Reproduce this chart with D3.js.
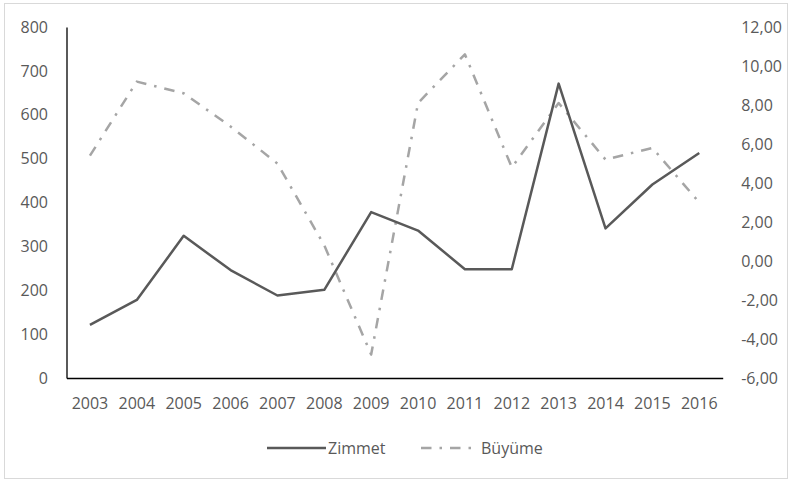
<!DOCTYPE html>
<html>
<head>
<meta charset="utf-8">
<script src="https://cdn.jsdelivr.net/npm/d3@7"></script>
<style>
  html, body { margin: 0; padding: 0; background: #fff; }
  svg { display: block; }
  text { font-family: "Open Sans", sans-serif; fill: #595959; }
</style>
</head>
<body>
<svg id="chart" width="792" height="482"></svg>
<script>
const years = ["2003","2004","2005","2006","2007","2008","2009","2010","2011","2012","2013","2014","2015","2016"];
const zimmet = [121, 178, 324, 246, 188, 201, 378, 336, 248, 248, 671, 341, 441, 513];
const buyume = [5.4, 9.2, 8.6, 6.9, 5.0, 0.8, -4.8, 8.1, 10.6, 4.8, 8.1, 5.2, 5.8, 3.0];
const leftTicks = [0, 100, 200, 300, 400, 500, 600, 700, 800];
const rightTicks = [-6, -4, -2, 0, 2, 4, 6, 8, 10, 12];
const seriesNames = ["Zimmet", "Büyüme"];

const svg = d3.select("#chart");
const plot = { left: 66.5, right: 722.7, top: 27, bottom: 378 };
const fontSize = 16;

// outer border
svg.append("rect").attr("x", 4.5).attr("y", 3.5).attr("width", 783).attr("height", 475)
  .attr("fill", "#fff").attr("stroke", "#d9d9d9").attr("stroke-width", 1);

const x = d3.scaleBand().domain(years).range([plot.left, plot.right]);
const yL = d3.scaleLinear().domain([0, 800]).range([plot.bottom, plot.top]);
const yR = d3.scaleLinear().domain([-6, 12]).range([plot.bottom, plot.top]);
const cx = d => x(d) + x.bandwidth() / 2;

// left axis
const gL = svg.append("g").attr("transform", `translate(${plot.left},0)`)
  .call(d3.axisLeft(yL).tickValues(leftTicks).tickSize(0).tickPadding(18.5).tickFormat(d => String(d)));
gL.select(".domain").attr("stroke", "#000").attr("stroke-width", 1.3);
gL.selectAll("text").style("font-size", fontSize + "px").attr("fill", "#595959").attr("font-family", null);

// right axis
const gR = svg.append("g").attr("transform", `translate(${plot.right},0)`)
  .call(d3.axisRight(yR).tickValues(rightTicks).tickSize(0).tickPadding(18.5)
    .tickFormat(d => d.toFixed(2).replace(".", ",")));
gR.select(".domain").remove();
gR.selectAll("text").style("font-size", fontSize + "px").attr("fill", "#595959").attr("font-family", null);

// bottom axis
const gB = svg.append("g").attr("transform", `translate(0,${plot.bottom})`)
  .call(d3.axisBottom(x).tickSize(0).tickSizeOuter(0).tickPadding(20));
gB.select(".domain").attr("stroke", "#000").attr("stroke-width", 1.3);
gB.selectAll("text").style("font-size", fontSize + "px").attr("fill", "#595959").attr("font-family", null);

// lines
const lineZ = d3.line().x((d, i) => cx(years[i])).y(d => yL(d));
const lineB = d3.line().x((d, i) => cx(years[i])).y(d => yR(d));

const dashB = "10.5,8,2.5,8";

svg.append("path").datum(buyume).attr("d", lineB)
  .attr("fill", "none").attr("stroke", "#a5a5a5").attr("stroke-width", 2.5)
  .attr("stroke-dasharray", dashB).attr("stroke-linejoin", "round");

svg.append("path").datum(zimmet).attr("d", lineZ)
  .attr("fill", "none").attr("stroke", "#595959").attr("stroke-width", 2.5)
  .attr("stroke-linejoin", "round");

// legend
const legY = 448;
const leg = svg.append("g");
leg.append("line").attr("x1", 267).attr("x2", 326).attr("y1", legY).attr("y2", legY)
  .attr("stroke", "#595959").attr("stroke-width", 2.5);
leg.append("text").attr("x", 328).attr("y", legY).attr("dy", "0.35em")
  .style("font-size", fontSize + "px").text(seriesNames[0]);
leg.append("line").attr("x1", 421).attr("x2", 478).attr("y1", legY).attr("y2", legY)
  .attr("stroke", "#a5a5a5").attr("stroke-width", 2.5).attr("stroke-dasharray", dashB);
leg.append("text").attr("x", 481).attr("y", legY).attr("dy", "0.35em")
  .style("font-size", fontSize + "px").text(seriesNames[1]);
</script>
</body>
</html>
